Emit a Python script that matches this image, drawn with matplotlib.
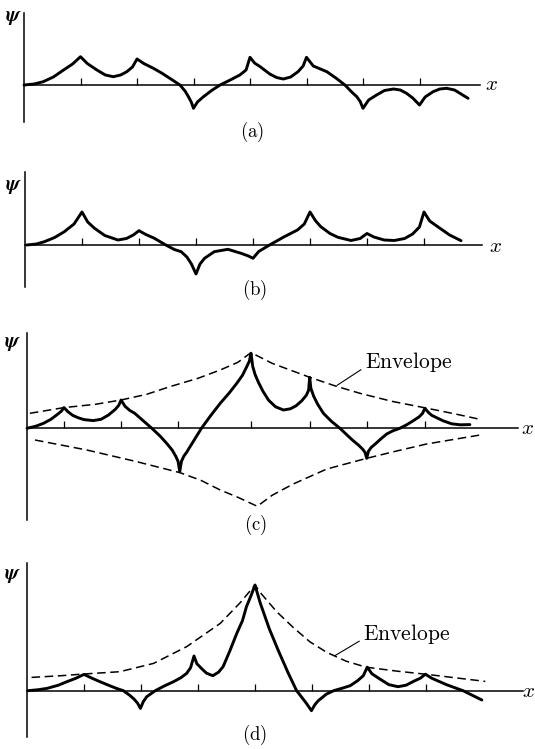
import matplotlib.pyplot as plt

plt.rcParams["mathtext.fontset"] = "cm"

FIG_W, FIG_H = 535, 749

# (a) psi(x) across the lattice, x in lattice spacings
X_A = [0.0, 0.18, 0.34, 0.52, 0.70, 0.86, 1.0,
       1.12, 1.29, 1.44, 1.58, 1.71, 1.82, 1.92, 2.0,
       2.12, 2.29, 2.45, 2.58, 2.68, 2.76, 2.85, 2.91, 2.96, 3.0,
       3.07, 3.17, 3.32, 3.47, 3.65, 3.82, 3.93, 4.0,
       4.08, 4.18, 4.35, 4.47, 4.59, 4.72, 4.85, 4.94, 5.0,
       5.12, 5.36, 5.52, 5.68, 5.80, 5.89, 5.95, 6.0,
       6.1, 6.24, 6.38, 6.54, 6.66, 6.77, 6.88, 7.0,
       7.1, 7.24, 7.36, 7.48, 7.62, 7.86]
PSI_A = [0, 1, 3.3, 8, 15, 21, 28.3,
         21.5, 15, 10, 8.3, 10, 13.3, 18, 26,
         21.5, 16.7, 11.5, 6.7, 3, 0, -6, -11.7, -17, -23.3,
         -17, -12, -5.5, 0, 5, 10, 15, 27.7,
         22, 18.3, 11, 7.5, 6, 8, 13.3, 19, 27.7,
         19, 13.3, 7, 0, -7, -11.7, -16.5, -23.3,
         -15, -10, -5.5, -4, -5, -8.3, -13, -20,
         -12, -6.7, -4, -3.3, -5, -13.3]

# (b)
X_B = [0.03, 0.2, 0.34, 0.52, 0.69, 0.86, 1.0,
       1.1, 1.22, 1.4, 1.63, 1.78, 1.9, 2.0,
       2.12, 2.27, 2.47, 2.62, 2.74, 2.84, 2.92, 3.0,
       3.07, 3.15, 3.32, 3.56, 3.79, 3.92, 4.0,
       4.1, 4.29, 4.55, 4.78, 4.9, 5.0,
       5.1, 5.19, 5.35, 5.49, 5.72, 5.88, 6.0,
       6.12, 6.3, 6.48, 6.66, 6.8, 6.92, 7.0,
       7.1, 7.24, 7.45, 7.65]
PSI_B = [0, 1, 3.3, 7.5, 13.3, 21, 33,
         23, 16.7, 9.5, 5, 6.5, 10, 14.3,
         10.5, 6.7, 0, -4.5, -6.7, -12, -19, -29,
         -19, -13.3, -6.7, -4.3, -8.3, -11, -13.3,
         -6.5, 0, 8.3, 15, 21, 33,
         24, 18.3, 11.5, 7.7, 4.5, 6.5, 11.5,
         8, 5, 4.5, 6.5, 11, 18, 33,
         24, 18.3, 10, 4.3]

# (c) with its envelope
X_C = [0.0, 0.15, 0.29, 0.42, 0.52, 0.60, 0.65,
       0.72, 0.80, 0.90, 1.0, 1.16, 1.3, 1.43, 1.55, 1.61, 1.65,
       1.72, 1.80, 1.89, 2.04, 2.19, 2.33, 2.45, 2.55, 2.61, 2.65, 2.68,
       2.71, 2.75, 2.80, 2.93, 3.06, 3.22, 3.39, 3.55, 3.68, 3.78, 3.85, 3.90, 3.93,
       3.96, 4.0, 4.06, 4.14, 4.24, 4.36, 4.5, 4.62, 4.72, 4.82, 4.9, 4.94, 4.96,
       4.98, 5.03, 5.1, 5.2, 5.34, 5.49, 5.62, 5.72, 5.82, 5.89, 5.93, 5.96,
       5.99, 6.04, 6.11, 6.2, 6.31, 6.42, 6.54, 6.66, 6.78, 6.88, 6.94, 6.98,
       7.04, 7.1, 7.19, 7.3, 7.45, 7.6, 7.77]
PSI_C = [0, 2, 5, 9, 13.3, 17, 20.7,
         16.5, 13, 10.5, 8.7, 7.7, 9, 13.3, 19, 23, 28.3,
         22, 18, 15, 7.5, 0, -7.5, -15, -22, -28, -33, -43.3,
         -33, -28, -24, -12, 0, 12.5, 25, 35.5, 45, 53, 61, 67, 75,
         62, 54, 46, 37, 28, 21.5, 18.3, 19.5, 22.5, 27.5, 33, 38, 51,
         40, 32, 24, 15, 7, 0, -7, -12.3, -17, -21, -24, -30,
         -23, -19, -15.7, -11, -5.7, -2.5, 0, 3.5, 7.7, 11.5, 15, 20,
         16, 13, 10.5, 7.5, 4.5, 3.5, 3.7]
TICKS_C = [0.65, 1.65, 2.65, 3.93, 4.96, 5.96, 6.98]

ENV_C_UP_X = [0.05, 0.65, 1.2, 1.65, 2.1, 2.51, 3.0, 3.39, 3.7, 3.93,
              4.3, 4.96, 5.4, 5.84, 6.4, 6.98, 7.5, 7.92]
ENV_C_UP = [15, 20.7, 24, 28.3, 34, 41.7, 50, 58.3, 66, 75.7,
            65, 51, 42.5, 35, 27, 20.5, 14.5, 9.3]
ENV_C_LO_X = [0.14, 1.05, 1.92, 2.68, 3.05, 3.39, 3.7, 4.04,
              4.3, 4.67, 5.26, 5.96, 6.5, 7.01, 7.5, 7.95]
ENV_C_LO = [-11.7, -21.7, -33.3, -44.3, -52, -61.7, -69, -78,
            -67, -55.7, -40.7, -30, -22.5, -15.7, -11, -6.7]

# (d) with its envelope
X_D = [0.02, 0.2, 0.35, 0.55, 0.70, 0.86, 1.0,
       1.14, 1.28, 1.45, 1.57, 1.69, 1.80, 1.88, 1.94, 1.99,
       2.04, 2.10, 2.25, 2.40, 2.57, 2.70, 2.80, 2.87, 2.93,
       2.98, 3.06, 3.15, 3.26, 3.36, 3.44, 3.56, 3.68, 3.78, 3.85, 3.93, 4.0,
       4.09, 4.25, 4.41, 4.58, 4.73, 4.84, 4.91, 4.99,
       5.05, 5.11, 5.25, 5.38, 5.53, 5.67, 5.80, 5.90, 5.97,
       6.05, 6.19, 6.35, 6.51, 6.65, 6.78, 6.9, 6.99,
       7.1, 7.36, 7.65, 7.98]
PSI_D = [0, 1, 2.3, 5.5, 9, 12.5, 16.3,
         12.5, 9, 5, 2.3, 0, -4.5, -8.5, -12.5, -17.7,
         -11, -6, 0, 4.5, 9, 13, 17.3, 23, 34.7,
         27, 22.3, 17.5, 15, 18.5, 24, 40, 57.3, 70, 84, 95, 105.7,
         88, 62, 40, 18, 0, -8, -13.3, -20,
         -14, -10, -3.5, 0, 2.5, 5, 10, 15, 23.5,
         17, 11.7, 6, 4, 5.5, 9.3, 12.5, 16.5,
         12.5, 6, 0, -9.3]

ENV_D_X = [0.08, 0.6, 1.0, 1.63, 2.22, 2.8, 3.39, 3.74, 4.0,
           4.09, 4.38, 4.67, 4.96, 5.26, 5.6, 5.95, 6.5, 6.99, 7.5, 8.04]
ENV_D = [13.3, 15, 16.7, 19, 27.3, 44, 67.3, 88, 105.7,
         98.3, 79, 63.3, 49, 38.3, 29.5, 23.5, 19.5, 16.5, 13, 9.3]

LATTICE_TICKS = [1, 2, 3, 4, 5, 6, 7]

CURVE_STYLE = dict(color="black", lw=2.1, solid_joinstyle="round", solid_capstyle="round")
DASH_STYLE = dict(color="black", lw=1.1, dashes=(5.6, 3.0))


def lattice_panel(fig, top, bottom, x0, axis_py, cell, x_end, y_lo, y_hi, ticks):
    """Axes over one horizontal band of the figure; x in lattice units, y in px above the axis."""
    ax = fig.add_axes([0, 1 - bottom / FIG_H, 1, (bottom - top) / FIG_H])
    ax.set_xlim(-x0 / cell, (FIG_W - x0) / cell)
    ax.set_ylim(axis_py - bottom, axis_py - top)
    ax.patch.set_visible(False)
    ax.spines["top"].set_visible(False)
    ax.spines["right"].set_visible(False)
    ax.spines["left"].set_position(("data", 0))
    ax.spines["bottom"].set_position(("data", 0))
    ax.spines["left"].set_bounds(y_lo, y_hi)
    ax.spines["bottom"].set_bounds(0, x_end)
    for side in ("left", "bottom"):
        ax.spines[side].set_linewidth(1.1)
    ax.set_xticks(ticks)
    ax.set_yticks([])
    ax.tick_params(axis="x", direction="in", length=5, width=0.9, labelbottom=False)
    return ax


def axis_labels(ax, psi_xy, x_xy, tag, tag_xy):
    ax.text(*psi_xy, r"$\boldsymbol{\psi}$", fontsize=15, ha="center", va="center")
    ax.text(*x_xy, r"$x$", fontsize=15, ha="center", va="center")
    ax.text(*tag_xy, r"$\mathrm{(" + tag + ")}$", fontsize=13.5, ha="center", va="center")


def envelope_label(ax, xy, text_xy):
    ax.annotate(r"$\mathrm{Envelope}$", xy=xy, xytext=text_xy, fontsize=15.5,
                ha="left", va="baseline",
                arrowprops=dict(arrowstyle="-", lw=0.8, color="black",
                                shrinkA=1, shrinkB=0, relpos=(0, 0.3)))


fig = plt.figure(figsize=(FIG_W / 100, FIG_H / 100), dpi=100)

ax_a = lattice_panel(fig, 0, 140, 24, 85, 56.5, 8.07, -37, 72, LATTICE_TICKS)
ax_a.plot(X_A, PSI_A, **CURVE_STYLE)
axis_labels(ax_a, (-0.19, 68), (8.28, 1), "a", (4.04, -47))

ax_b = lattice_panel(fig, 140, 300, 25, 245, 57, 8.02, -42, 73, LATTICE_TICKS)
ax_b.plot(X_B, PSI_B, **CURVE_STYLE)
axis_labels(ax_b, (-0.2, 59), (8.25, -1), "b", (4.02, -45))

ax_c = lattice_panel(fig, 300, 530, 27, 428.3, 57, 8.61, -92, 95, TICKS_C)
ax_c.plot(ENV_C_UP_X, ENV_C_UP, **DASH_STYLE)
ax_c.plot(ENV_C_LO_X, ENV_C_LO, **DASH_STYLE)
ax_c.plot(X_C, PSI_C, **CURVE_STYLE)
axis_labels(ax_c, (-0.25, 85), (8.78, 0), "c", (4.0, -97))
envelope_label(ax_c, (5.44, 43), (5.93, 60))

ax_d = lattice_panel(fig, 530, 749, 27, 690.7, 57, 8.7, -46, 128, LATTICE_TICKS)
ax_d.plot(ENV_D_X, ENV_D, **DASH_STYLE)
ax_d.plot(X_D, PSI_D, **CURVE_STYLE)
axis_labels(ax_d, (-0.25, 115.7), (8.8, 0), "d", (4.0, -44))
envelope_label(ax_d, (5.40, 35), (5.90, 50.7))

fig.savefig("out.png", dpi=100)
plt.close(fig)
